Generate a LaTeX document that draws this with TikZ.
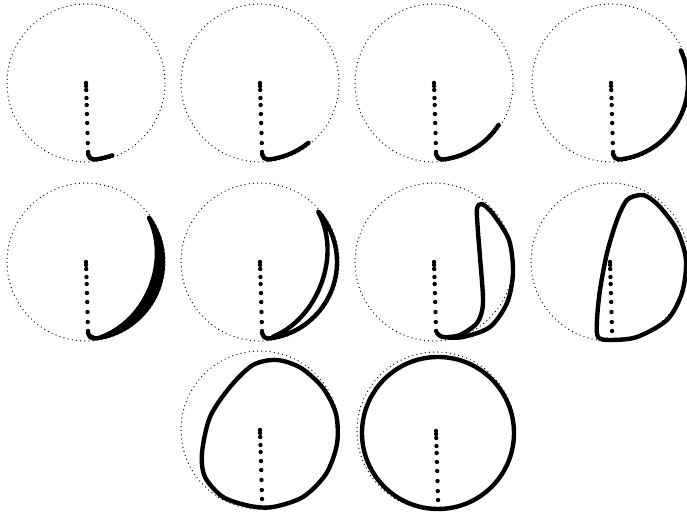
\documentclass[tikz,border=0pt]{standalone}
\usepackage{tikz}
\usetikzlibrary{calc}

\begin{document}
\begin{tikzpicture}[x=0.02cm,y=0.02cm,rim/.style={line width=0.75pt,dash pattern=on 0pt off 2.4pt,line cap=round},trace/.style={line width=2.5pt,line cap=round,line join=round}]
\useasboundingbox (0,0) rectangle (687,519);
% panel centres
\coordinate (p1) at (86,436);
\coordinate (p2) at (260,436);
\coordinate (p3) at (434,436);
\coordinate (p4) at (611,436);
\coordinate (p5) at (86,257);
\coordinate (p6) at (260,257);
\coordinate (p7) at (434,257);
\coordinate (p8) at (610,257);
\coordinate (p9) at (260,89);
\coordinate (p10) at (436,88);
% dotted rims and the dotted radius
\foreach \pc in {p1,p2,p3,p4,p5,p6,p7,p8,p9,p10} \draw[rim] (\pc) circle (79);
\foreach \pc in {p1,p2,p3,p4,p5,p6,p7,p8,p9,p10} \foreach \d in {0,3,7,15,22,31,40,50,60,69} \fill ($(\pc)+(0.03*\d,-\d)$) circle (2.2);
% growing arc, top row
\foreach \pc/\e in {p1/-70,p2/-51,p3/-33,p4/25} \draw[trace,shift={(\pc)}] (2,-71) to[out=-75,in=186] (-84:77) arc[start angle=-84,end angle=\e,radius=77];
% crescent
\filldraw[trace,shift={(p5)}] (2,-71) to[out=-75,in=186] (-84:77) arc[start angle=-84,end angle=35,radius=77] -- plot[smooth,domain=35:-80,samples=30] ({(77-8*sin(1.565*(35-\x)))*cos(\x)},{(77-8*sin(1.565*(35-\x)))*sin(\x)});
% narrow loop
\draw[trace,shift={(p6)}] (2,-71) to[out=-75,in=186] (-84:77) arc[start angle=-84,end angle=41,radius=77] -- plot[smooth,domain=41:-80,samples=30] ({(77-12*sin(1.44*(41-\x)))*cos(\x)},{(77-12*sin(1.44*(41-\x)))*sin(\x)});
% wider loops
\draw[trace,shift={(p7)}] plot[smooth] coordinates {(3,-71) (9,-75) (29,-75) (56,-65) (73,-41) (79,-11) (75,22) (59,48) (48,58) (43,53) (44,30) (46,5) (49,-41) (43,-61) (26,-73) (14,-75)};
\draw[trace,shift={(p8)}] plot[smooth cycle] coordinates {(0,-78) (27,-75) (57,-58) (72,-31) (76,2) (67,32) (50,55) (38,65) (30,67) (17,62) (7,42) (-3,9) (-10,-28) (-13,-58) (-12,-75)};
\draw[trace,shift={(p9)}] plot[smooth cycle] coordinates {(13,-77) (43,-67) (66,-44) (77,-14) (76,16) (63,42) (41,62) (17,70) (-7,65) (-30,43) (-50,13) (-58,-23) (-55,-47) (-37,-67) (-10,-76)};
\draw[trace,shift={(p10)}] (2,-2) circle (76);
\end{tikzpicture}
\end{document}
